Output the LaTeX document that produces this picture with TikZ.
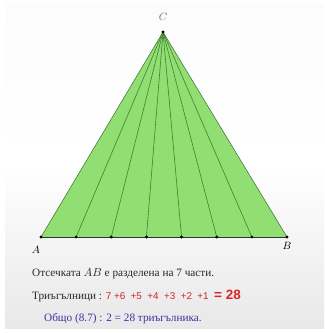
\documentclass[tikz,border=0pt]{standalone}
\usepackage{fontspec}
\setmainfont{Liberation Serif}
\newfontfamily\redfont{Liberation Sans}
\usetikzlibrary{positioning}
\usetikzlibrary{calc}
\definecolor{trifill}{RGB}{145,222,115}
\definecolor{triline}{RGB}{62,128,48}
\definecolor{sumred}{RGB}{214,38,38}
\definecolor{totblue}{RGB}{58,50,160}
\pgfdeclareverticalshading{panel}{100bp}{color(0bp)=(black!24); color(22bp)=(black!10); color(50bp)=(white); color(93bp)=(black!2); color(100bp)=(black!10)}

\begin{document}
\begin{tikzpicture}[x=0.03cm, y=-0.03cm, line cap=round, line join=round]
		\useasboundingbox (0,0) rectangle (324,333);
		% panel
		\shade [shading=panel] (5,3) rectangle (324,328);
		% triangle
		\coordinate (C) at (163,32);
		\coordinate (A) at (41,237);
		\coordinate (B) at (287,237);
		\fill [trifill] (A) -- (B) -- (C) -- cycle;
		% division lines
		\foreach \i in {0,...,7} {
			\coordinate (p\i) at ($(A)!\i/7!(B)$);
		}
		\foreach \i in {1,...,6} {
			\draw [triline, line width=0.5pt] (C) -- (p\i);
		}
		\draw [triline!80!black, line width=0.4pt] (A) -- (C) -- (B);
		\draw [black!80, line width=0.6pt] (A) -- (B);
		% points
		\foreach \i in {0,...,7} {
			\fill (p\i) circle (1.6);
		}
		\fill (C) circle (1.6);
		% symbols
		\node [text=black!60, font=\small] (labC) at (163,17) {$C$};
		\node [font=\small] (labA) at (36,250) {$A$};
		\node [font=\small] (labB) at (287,246) {$B$};
		% text lines
		\node [anchor=base west, font=\fontsize{9.6}{11}\selectfont, text=black!85] (line1) at (28,276)
			{Отсечката $AB$ е разделена на 7 части.};
		\node [anchor=base west, font=\fontsize{9.6}{11}\selectfont, text=black!85] (line2) at (28,299)
			{Триъгълници : {\redfont\color{sumred}\fontsize{8.4}{10}\selectfont 7 +6 \ +5 \ +4 \ +3 \ +2 \ +1 \ {\bfseries\fontsize{11.5}{12}\selectfont = 28}}};
		\node [anchor=base west, font=\fontsize{9.6}{11}\selectfont, text=totblue] (line3) at (40,321)
			{Общо (8.7) : 2 = 28 триъгълника.};
	\end{tikzpicture}
\end{document}
